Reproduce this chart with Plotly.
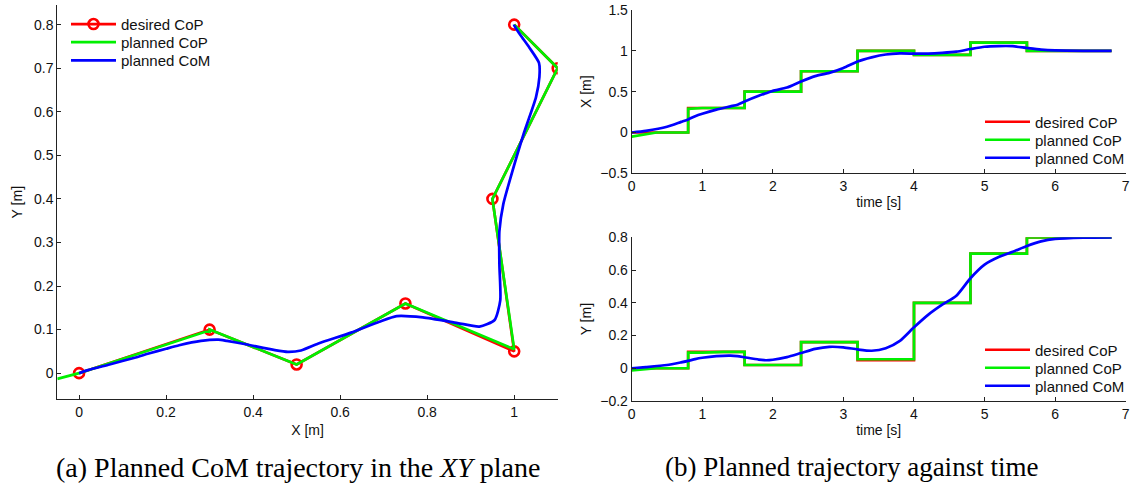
import plotly.graph_objects as go

W, H = 1133, 486

# ---------------- data ----------------
# desired CoP footsteps (XY plane and per-step in time, 0.8 s per step)
des_x = [0.0, 0.3, 0.5, 0.75, 1.0, 0.95, 1.1, 1.0]
des_y = [0.0, 0.1, 0.02, 0.16, 0.05, 0.4, 0.7, 0.8]
des_t_step = [0.0, 0.8, 1.6, 2.4, 3.2, 4.0, 4.8, 5.6, 6.8]

# planned CoP (time series shared by XY and time plots)
cop_t = [0.0, 0.35, 0.8, 0.8, 1.0, 1.3, 1.6, 1.6, 2.4, 2.4, 3.2, 3.2, 4.0, 4.0,
         4.8, 4.8, 5.6, 5.6, 6.8]
cop_x = [-0.05, 0.0, 0.0, 0.29, 0.3, 0.3, 0.3, 0.5, 0.5, 0.75, 0.75, 1.0, 1.0, 0.95,
         0.95, 1.1, 1.1, 1.0, 1.0]
cop_y = [-0.013, 0.0, 0.0, 0.095, 0.095, 0.1, 0.1, 0.02, 0.02, 0.16, 0.16, 0.055, 0.055, 0.4,
         0.4, 0.7, 0.7, 0.8, 0.8]

# planned CoM (time series)
com_t = [0.0, 0.2, 0.5, 0.7, 0.8, 0.9, 1.0, 1.2, 1.4, 1.5, 1.6, 1.8, 1.9, 2.0, 2.2, 2.4,
         2.6, 2.8, 3.0, 3.2, 3.4, 3.6, 3.8, 4.0, 4.2, 4.4, 4.6, 4.8, 5.0, 5.2, 5.4,
         5.6, 5.8, 6.0, 6.4, 6.8]
com_x = [0.0, 0.02, 0.07, 0.13, 0.16, 0.2, 0.23, 0.28, 0.32, 0.34, 0.38, 0.45, 0.48, 0.51,
         0.55, 0.625, 0.69, 0.73, 0.79, 0.87, 0.92, 0.955, 0.968, 0.966, 0.966, 0.975,
         0.99, 1.022, 1.05, 1.058, 1.057, 1.035, 1.015, 1.005, 1.0, 1.0]
com_y = [0.0, 0.007, 0.02, 0.036, 0.045, 0.056, 0.064, 0.074, 0.077, 0.074, 0.067, 0.053,
         0.049, 0.052, 0.068, 0.093, 0.118, 0.131, 0.128, 0.115, 0.107, 0.122, 0.167, 0.25,
         0.326, 0.388, 0.443, 0.55, 0.633, 0.68, 0.712, 0.747, 0.775, 0.79, 0.798, 0.8]

# desired CoP as step functions in time
des_t, des_xt, des_yt = [], [], []
for i in range(len(des_x)):
    des_t += [des_t_step[i], des_t_step[i + 1]]
    des_xt += [des_x[i], des_x[i]]
    des_yt += [des_y[i], des_y[i]]

names = ["desired CoP", "planned CoP", "planned CoM"]

RED, GREEN, BLUE = "#ff0000", "#00f000", "#0000ff"
LW = 2.7
FONT = "Liberation Sans, Arial, Helvetica, sans-serif"
FS = 14
FS_LEG = 15
TXT = "#111"


def px_x(p):
    return p / W


def px_y(p):
    return 1 - p / H


fig = go.Figure()

# legend rows (pixel centres) per panel: left, top-right, bottom-right
legend_rows = {
    "xy": [(66, 24.3), (66, 42.3), (66, 60.7)],
    "x2y2": [(980, 122), (980, 140), (980, 158)],
    "x3y3": [(980, 350), (980, 368), (980, 386)],
}
leg_layout = {}
leg_counter = [0]


def new_legend(px, py):
    leg_counter[0] += 1
    key = "legend" if leg_counter[0] == 1 else f"legend{leg_counter[0]}"
    leg_layout[key] = dict(x=px_x(px), y=px_y(py), xanchor="left", yanchor="middle",
                           bgcolor="rgba(0,0,0,0)", borderwidth=0, itemwidth=45,
                           font=dict(family=FONT, size=FS_LEG, color=TXT))
    return key


def add(xs, ys, name, color, ax, row, marker=False, smooth=False):
    px, py = legend_rows[ax][row]
    key = new_legend(px, py)
    xa, ya = {"xy": ("x", "y"), "x2y2": ("x2", "y2"), "x3y3": ("x3", "y3")}[ax]
    line = dict(color=color, width=LW)
    if smooth:
        line.update(shape="spline", smoothing=0.6)
    kw = {}
    if marker:
        kw["marker"] = dict(symbol="circle-open", size=10, color=color, line=dict(width=2.6))
    fig.add_trace(go.Scatter(x=xs, y=ys, mode="lines+markers" if marker else "lines",
                             name=name, line=line, xaxis=xa, yaxis=ya, legend=key, **kw))


# ---- left: XY plane ----
add(des_x, des_y, names[0], RED, "xy", 0, marker=True)
add(cop_x, cop_y, names[1], GREEN, "xy", 1)
add(com_x, com_y, names[2], BLUE, "xy", 2, smooth=True)
# ---- top right: X vs time ----
add(des_t, des_xt, names[0], RED, "x2y2", 0)
add(cop_t, cop_x, names[1], GREEN, "x2y2", 1)
add(com_t, com_x, names[2], BLUE, "x2y2", 2, smooth=True)
# ---- bottom right: Y vs time ----
add(des_t, des_yt, names[0], RED, "x3y3", 0)
add(cop_t, cop_y, names[1], GREEN, "x3y3", 1)
add(com_t, com_y, names[2], BLUE, "x3y3", 2, smooth=True)

axis_common = dict(showgrid=False, zeroline=False, showline=True, linecolor="#222",
                   linewidth=1, ticks="inside", ticklen=4, tickcolor="#222",
                   automargin=False,
                   tickfont=dict(family=FONT, size=FS, color=TXT),
                   title_font=dict(family=FONT, size=FS, color=TXT), mirror=False)

fig.update_layout(
    width=W, height=H, margin=dict(l=0, r=0, t=0, b=0, autoexpand=False),
    paper_bgcolor="white", plot_bgcolor="white",
    xaxis=dict(axis_common, domain=[px_x(57.3), px_x(557.7)], range=[-0.05, 1.1],
               tick0=0, dtick=0.2, anchor="y", title=dict(text="X [m]", standoff=6)),
    yaxis=dict(axis_common, domain=[px_y(399.3), px_y(5)], range=[-0.06, 0.845],
               tick0=0, dtick=0.1, anchor="x", title=dict(text="Y [m]", standoff=8)),
    xaxis2=dict(axis_common, domain=[px_x(631.7), px_x(1125.7)], range=[0, 7],
                tick0=0, dtick=1, anchor="y2", title=dict(text="time [s]", standoff=4)),
    yaxis2=dict(axis_common, domain=[px_y(173.3), px_y(10)], range=[-0.5, 1.5],
                tick0=-0.5, dtick=0.5, anchor="x2", title=dict(text="X [m]", standoff=5)),
    xaxis3=dict(axis_common, domain=[px_x(631.7), px_x(1125.7)], range=[0, 7],
                tick0=0, dtick=1, anchor="y3", title=dict(text="time [s]", standoff=4)),
    yaxis3=dict(axis_common, domain=[px_y(401), px_y(237.3)], range=[-0.2, 0.8],
                tick0=-0.2, dtick=0.2, anchor="x3", title=dict(text="Y [m]", standoff=5)),
    showlegend=True,
    **leg_layout,
)

SERIF = "Liberation Serif, Times New Roman, serif"
fig.add_annotation(text="(a) Planned CoM trajectory in the <i>XY</i> plane",
                   x=px_x(298), y=px_y(467), xref="paper", yref="paper",
                   showarrow=False, font=dict(family=SERIF, size=28, color="#000"),
                   xanchor="center", yanchor="middle")
fig.add_annotation(text="(b) Planned trajectory against time",
                   x=px_x(852), y=px_y(467), xref="paper", yref="paper",
                   showarrow=False, font=dict(family=SERIF, size=27, color="#000"),
                   xanchor="center", yanchor="middle")

fig.write_html("out.html")
